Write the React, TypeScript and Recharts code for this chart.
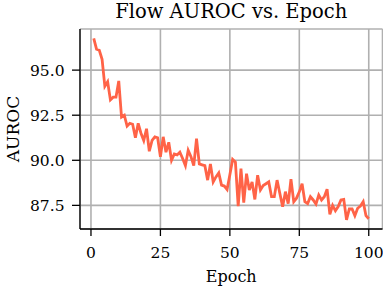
import { LineChart, Line, XAxis, YAxis, CartesianGrid } from "recharts";

const epochs = Array.from({ length: 100 }, (_, i) => i + 1);

const auroc = [
    96.76, 96.16, 96.1, 95.6, 94.1, 94.35, 93.35, 93.5, 93.5, 94.4,
    92.4, 92.5, 91.9, 92.05, 92.0, 91.25, 92.05, 91.5, 91.1, 91.75,
    90.5, 91.1, 91.3, 91.25, 90.2, 91.3, 90.45, 91.0, 90.0, 90.35,
    90.3, 90.45, 90.1, 89.7, 90.55, 90.2, 89.7, 91.2, 89.8, 89.75,
    89.7, 88.9, 89.8, 88.8, 89.08, 89.3, 88.62, 88.57, 88.38, 89.2,
    90.05, 89.9, 87.46, 89.54, 87.65, 89.26, 88.35, 88.8, 87.83, 89.17,
    88.35, 88.6, 88.7, 88.8, 87.98, 87.98, 88.9, 88.16, 87.43, 88.26,
    87.6, 88.95, 87.7, 87.9, 88.25, 88.7, 87.7, 87.6, 87.98, 87.8,
    87.57, 88.07, 87.8, 87.98, 88.4, 87.0, 87.5, 87.2, 87.43, 87.8,
    87.83, 86.7, 87.3, 87.3, 86.93, 87.34, 87.46, 87.7, 86.93, 86.76,
];

const xTicks = [0, 25, 50, 75, 100];
const yTicks = [87.5, 90.0, 92.5, 95.0];

const data = epochs.map((e, i) => ({ epoch: e, auroc: auroc[i] }));

const FONT = '"DejaVu Serif", serif';

export default function App() {
    return (
        <div style={{ position: "absolute", left: 0, top: 0, width: 383, height: 287, background: "#fff", fontFamily: FONT }}>
            <div
                style={{
                    position: "absolute",
                    top: 0,
                    left: 80,
                    width: 302.5,
                    textAlign: "center",
                    fontSize: 19.5,
                    lineHeight: "23px",
                    color: "#000",
                }}
            >
                Flow AUROC vs. Epoch
            </div>
            <LineChart width={383} height={287} data={data} margin={{ top: 29, right: 0.5, bottom: 0, left: 0 }}>
                <CartesianGrid stroke="#b0b0b0" strokeWidth={1.6} />
                <XAxis
                    dataKey="epoch"
                    type="number"
                    domain={[-3.95, 104.95]}
                    ticks={xTicks}
                    allowDataOverflow
                    height={58}
                    tickSize={7}
                    tickMargin={11}
                    stroke="#000"
                    strokeWidth={1.3}
                    tick={{ fill: "#000", fontSize: 15.5, fontFamily: FONT }}
                    label={{ value: "Epoch", position: "insideBottom", offset: 5, fill: "#000", fontSize: 16, fontFamily: FONT }}
                />
                <YAxis
                    type="number"
                    domain={[86.19, 97.28]}
                    ticks={yTicks}
                    allowDataOverflow
                    width={80}
                    tickSize={8}
                    tickMargin={7.5}
                    stroke="#000"
                    strokeWidth={1.3}
                    tickFormatter={(v: number) => v.toFixed(1)}
                    tick={{ fill: "#000", fontSize: 15.5, fontFamily: FONT }}
                    label={{
                        value: "AUROC",
                        angle: -90,
                        position: "insideLeft",
                        offset: 13,
                        fill: "#000",
                        fontSize: 17,
                        fontFamily: FONT,
                        style: { textAnchor: "middle" },
                    }}
                />
                <XAxis xAxisId="top" orientation="top" height={0} tick={false} tickLine={false} stroke="#000" strokeWidth={1.3} />
                <YAxis yAxisId="right" orientation="right" width={0} tick={false} tickLine={false} stroke="#000" strokeWidth={1.3} />
                <Line
                    dataKey="auroc"
                    type="linear"
                    stroke="#ff6347"
                    strokeWidth={2.8}
                    dot={false}
                    isAnimationActive={false}
                />
            </LineChart>
        </div>
    );
}
